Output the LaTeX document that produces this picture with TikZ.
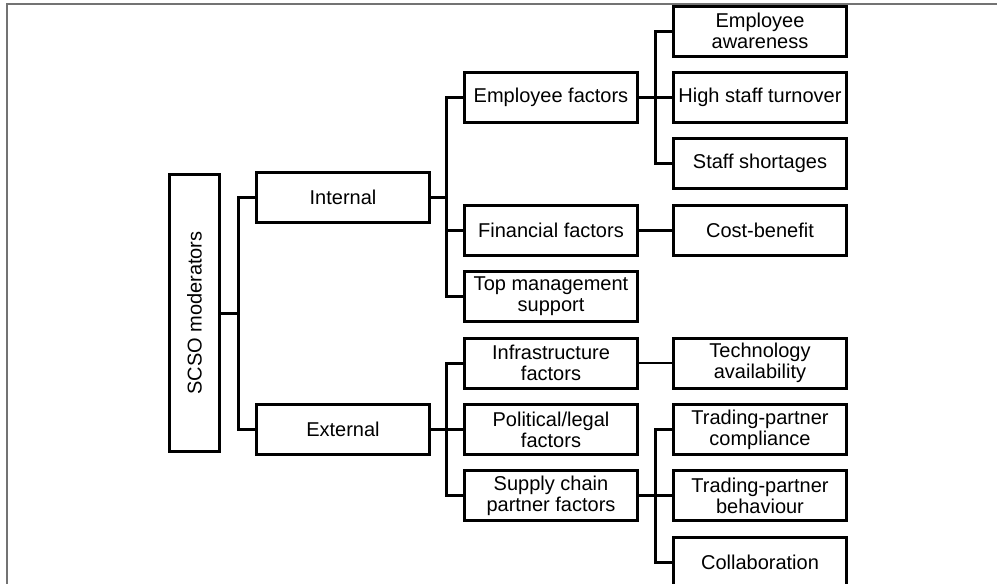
\documentclass[tikz,border=0pt]{standalone}
\usepackage{fontspec}
\setmainfont{Liberation Sans}
\begin{document}
\begin{tikzpicture}[x=1pt,y=-1pt,
  box/.style={draw, line width=3pt, rectangle, inner sep=0pt, minimum width=173pt, minimum height=50pt, align=center, font=\fontsize{20}{21}\selectfont},
  conn/.style={line width=3pt},
  frameline/.style={draw=black!55, line width=1.5pt}]
\useasboundingbox (0,0) rectangle (997,584);
\clip (0,0) rectangle (997,584);
% frame
\coordinate (fbl) at (7,590);
\coordinate (ftl) at (7,4);
\coordinate (ftr) at (1000,4);
\draw[frameline] (fbl) -- (ftl) -- (ftr);
% root
\node[box, minimum width=50pt, minimum height=277pt] (scso) at (194.5,313) {};
\node[rotate=90, font=\fontsize{20}{21}\selectfont] (scsot) at (scso.center) {SCSO moderators};
% level 1
\node[box] (int) at (343,197) {Internal};
\node[box] (ext) at (343,429.4) {External};
% level 2
\node[box] (empf) at (551,97.4) {Employee factors};
\node[box] (finf) at (551,230.2) {Financial factors};
\node[box] (topm) at (551,296.6) {Top management\\support};
\node[box] (infr) at (551,363) {Infrastructure\\factors};
\node[box] (poli) at (551,429.4) {Political/legal\\factors};
\node[box] (supp) at (551,495.8) {Supply chain\\partner factors};
% level 3
\node[box] (eaw) at (760,31) {Employee\\awareness};
\node[box] (hst) at (760,97.4) {High staff turnover};
\node[box] (ssh) at (760,163.8) {Staff shortages};
\node[box] (cob) at (760,230.2) {Cost-benefit};
\node[box] (tec) at (760,363) {Technology\\availability};
\node[box] (tpc) at (760,429.4) {Trading-partner\\compliance};
\node[box] (tpb) at (760,495.8) {Trading-partner\\behaviour};
\node[box] (col) at (760,562.2) {Collaboration};
% connectors
\coordinate (b0) at (238,313);
\draw[conn] (scso.east) -- (b0);
\draw[conn] (int.west) -| (b0) |- (ext.west);
\draw[conn] (int.east) -- ++(16,0);
\draw[conn] (empf.west) -- ++(-17,0) |- (topm.west);
\draw[conn] (finf.west) -- ++(-17,0);
\draw[conn] (ext.east) -- ++(16,0);
\draw[conn] (infr.west) -- ++(-17,0) |- (supp.west);
\draw[conn] (poli.west) -- ++(-17,0);
\draw[conn] (eaw.west) -- ++(-17,0) |- (ssh.west);
\draw[conn] (empf.east) -- (hst.west);
\draw[conn] (finf.east) -- (cob.west);
\draw[line width=2pt] (infr.east) -- (tec.west);
\draw[conn] (tpc.west) -- ++(-17,0) |- (col.west);
\draw[conn] (supp.east) -- (tpb.west);
\end{tikzpicture}
\end{document}
